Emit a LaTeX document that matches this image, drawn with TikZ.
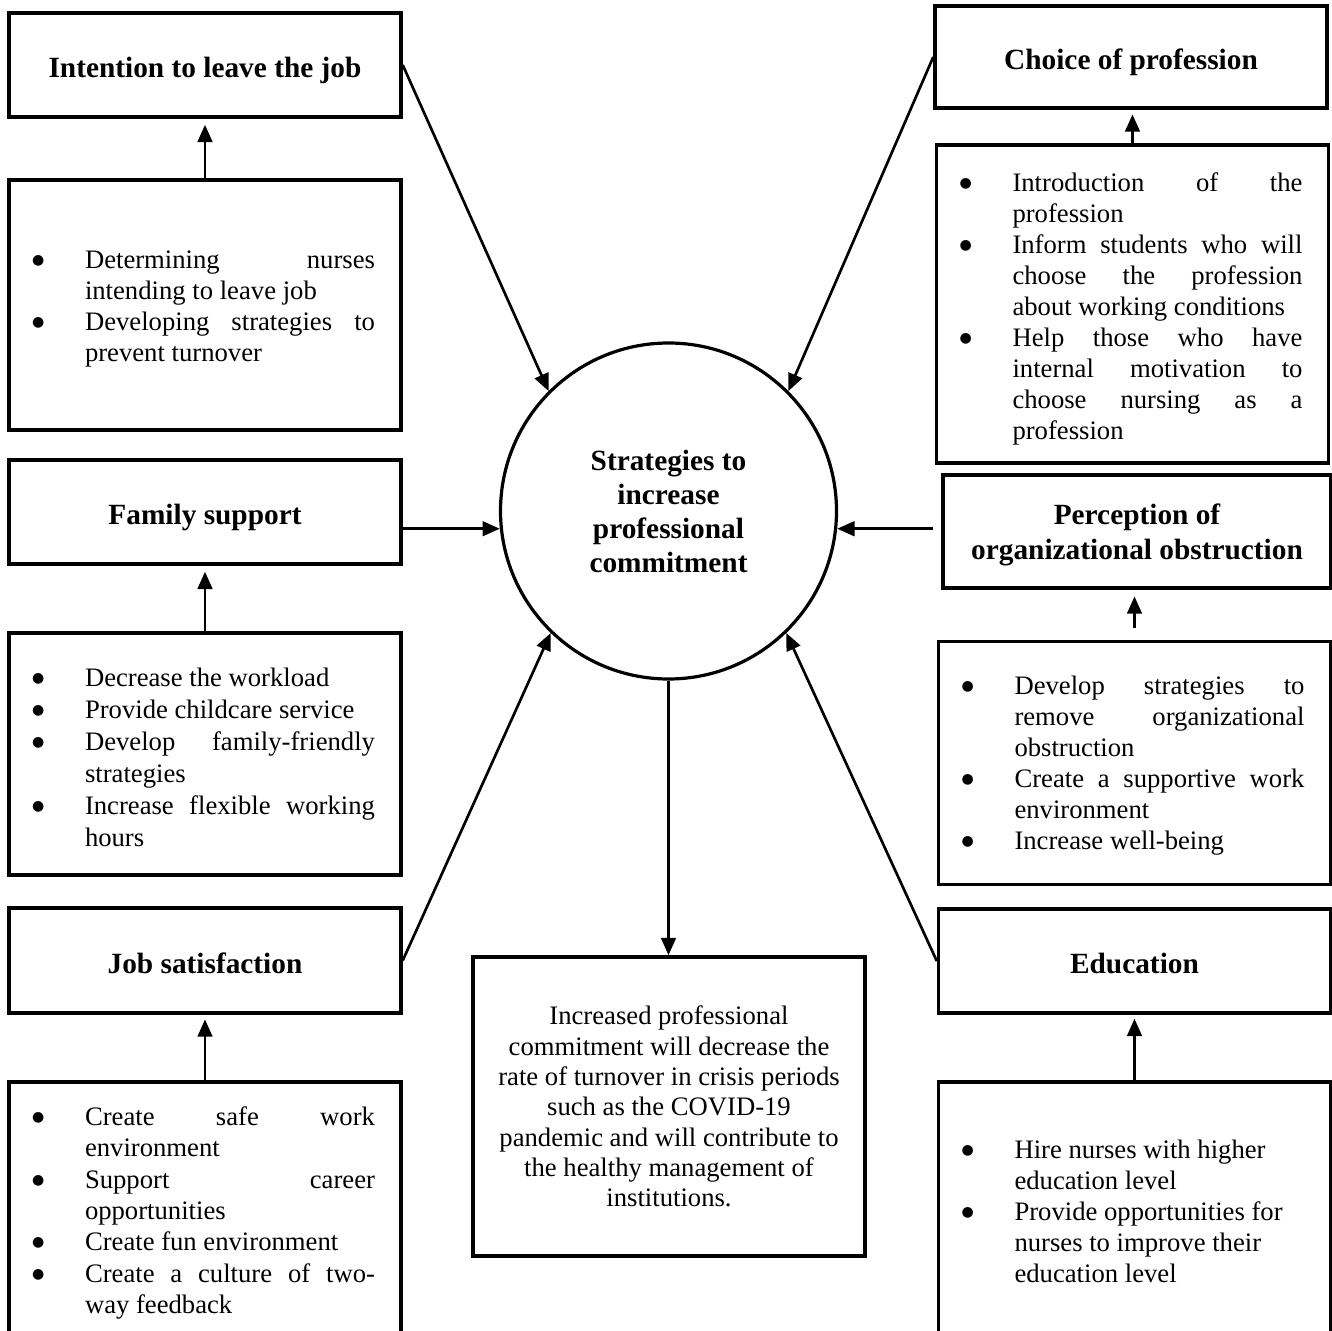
\documentclass[tikz,border=0pt]{standalone}
\usepackage{fontspec}
\setmainfont{Liberation Serif}
\newfontfamily\bulfont{DejaVu Sans}
\usetikzlibrary{arrows.meta,calc}

\newlength\hangw \setlength\hangw{38.25pt}
\newlength\linew \setlength\linew{217.5pt}
\newcommand\J[1]{\makebox[\linew][s]{#1}}
\newcommand\R[1]{\makebox[\linew][l]{#1}}
\newcommand\bul{\hspace*{-1.5pt}\raisebox{3pt}{\bulfont\fontsize{10.5pt}{12pt}\selectfont ●}}
\newcommand\itm[1]{\hangindent=\hangw\hangafter=1\noindent\makebox[\hangw][l]{\bul}#1\par}
% #1 leading, #2 extra space on top (moves the block down by half), #3 items
\newcommand\bc[3]{\hspace*{18.75pt}\parbox{255.75pt}{\fontsize{20pt}{#1}\selectfont\vspace*{#2}#3}\hspace*{19.5pt}}

\begin{document}
\begin{tikzpicture}[x=0.75pt,y=-0.75pt,
  titlebox/.style={draw,line width=2.6pt,inner sep=0pt,align=center,
    font=\fontsize{22pt}{26pt}\selectfont\bfseries,minimum width=294pt,
    text height=18.75pt,text depth=0pt},
  bulletbox/.style={draw,line width=2.6pt,inner sep=0pt,minimum width=294pt},
  arr/.style={line width=2pt,-{Triangle[length=13pt,width=11pt]}}]
\useasboundingbox (0,0) rectangle (1332,1331);
\fill[white] (0,0) rectangle (1332,1331);
\clip (0,0) rectangle (1332,1331);

% left column
\node[titlebox,minimum height=78pt] (intent) at (205,65) {Intention to leave the job};
\node[bulletbox,minimum height=187.5pt] (intentB) at (205,305) {\bc{23.25pt}{6pt}{%
\itm{\J{Determining nurses}\\\R{intending to leave job}}
\itm{\J{Developing strategies to}\\\R{prevent turnover}}}};

\node[titlebox,minimum height=78pt] (family) at (205,512) {Family support};
\node[bulletbox,minimum height=181.5pt] (familyB) at (205,754) {\bc{24pt}{4.5pt}{%
\itm{\R{Decrease the workload}}
\itm{\R{Provide childcare service}}
\itm{\J{Develop family-friendly}\\\R{strategies}}
\itm{\J{Increase flexible working}\\\R{hours}}}};

\node[titlebox,minimum height=78.75pt] (jobsat) at (205,960.5) {Job satisfaction};
\node[bulletbox,minimum height=193.5pt] (jobsatB) at (205,1211) {\bc{23.6pt}{3pt}{%
\itm{\J{Create safe work}\\\R{environment}}
\itm{\J{Support career}\\\R{opportunities}}
\itm{\R{Create fun environment}}
\itm{\J{Create a culture of two-}\\\R{way feedback}}}};

% right column
\node[titlebox,minimum height=76.5pt] (choice) at (1131,57) {Choice of profession};
\node[bulletbox,minimum height=238.5pt] (choiceB) at (1132.5,304) {\bc{23.25pt}{7.5pt}{%
\itm{\J{Introduction of the}\\\R{profession}}
\itm{\J{Inform students who will}\\\J{choose the profession}\\\R{about working conditions}}
\itm{\J{Help those who have}\\\J{internal motivation to}\\\J{choose nursing as a}\\\R{profession}}}};

\node[titlebox,minimum width=291pt,minimum height=84.75pt,text height=45pt,text depth=3.75pt] (percep) at (1137,531.5) {Perception of\\organizational obstruction};
\node[bulletbox,minimum height=182.25pt] (percepB) at (1134.5,763) {\bc{23.25pt}{4.5pt}{%
\itm{\J{Develop strategies to}\\\J{remove organizational}\\\R{obstruction}}
\itm{\J{Create a supportive work}\\\R{environment}}
\itm{\R{Increase well-being}}}};

\node[titlebox,minimum height=78pt] (educ) at (1134.5,961) {Education};
\node[bulletbox,minimum height=193.5pt] (educB) at (1134.5,1211) {\bc{23.25pt}{0pt}{%
\itm{\R{Hire nurses with higher}\\\R{education level}}
\itm{\R{Provide opportunities for}\\\R{nurses to improve their}\\\R{education level}}}};

% centre
\node[draw,circle,line width=2.4pt,inner sep=0pt,minimum size=252pt,align=center,
  font=\fontsize{22pt}{25.5pt}\selectfont\bfseries] (circ) at (668.5,511)
  {Strategies to\\increase\\professional\\commitment};
\node[draw,line width=2.6pt,inner sep=0pt,minimum width=294pt,minimum height=224.25pt,align=center,
  font=\fontsize{20pt}{22.75pt}\selectfont] (result) at (669,1106.5)
  {Increased professional\\commitment will decrease the\\rate of turnover in crisis periods\\such as the COVID-19\\pandemic and will contribute to\\the healthy management of\\institutions.};

% vertical small arrows
\draw[arr,shorten >=4.5pt] (intentB.north) -- (intentB.north |- intent.south);
\draw[arr,shorten >=4.5pt] (familyB.north) -- (familyB.north |- family.south);
\draw[arr,shorten >=3.5pt] (jobsatB.north) -- (jobsatB.north |- jobsat.south);
\draw[arr,shorten >=3.5pt] (choiceB.north) -- (choiceB.north |- choice.south);
\draw[arr,shorten <=9pt,shorten >=5pt] (percepB.north) -- (percepB.north |- percep.south);
\draw[arr,shorten >=3pt] (educB.north) -- (educB.north |- educ.south);

% arrows into the circle
\draw[arr] (intent.east) -- (circ.135);
\draw[arr] (choice.west) -- (circ.45);
\draw[arr] (circ.186 -| family.east) -- (circ.186);
\draw[arr,shorten <=6pt] (circ.-6 -| percep.west) -- (circ.-6);
\draw[arr] (jobsat.east) -- (circ.226);
\draw[arr] (educ.west) -- (circ.-46);
\draw[arr] (circ.south) -- (circ.south |- result.north);
\end{tikzpicture}
\end{document}
